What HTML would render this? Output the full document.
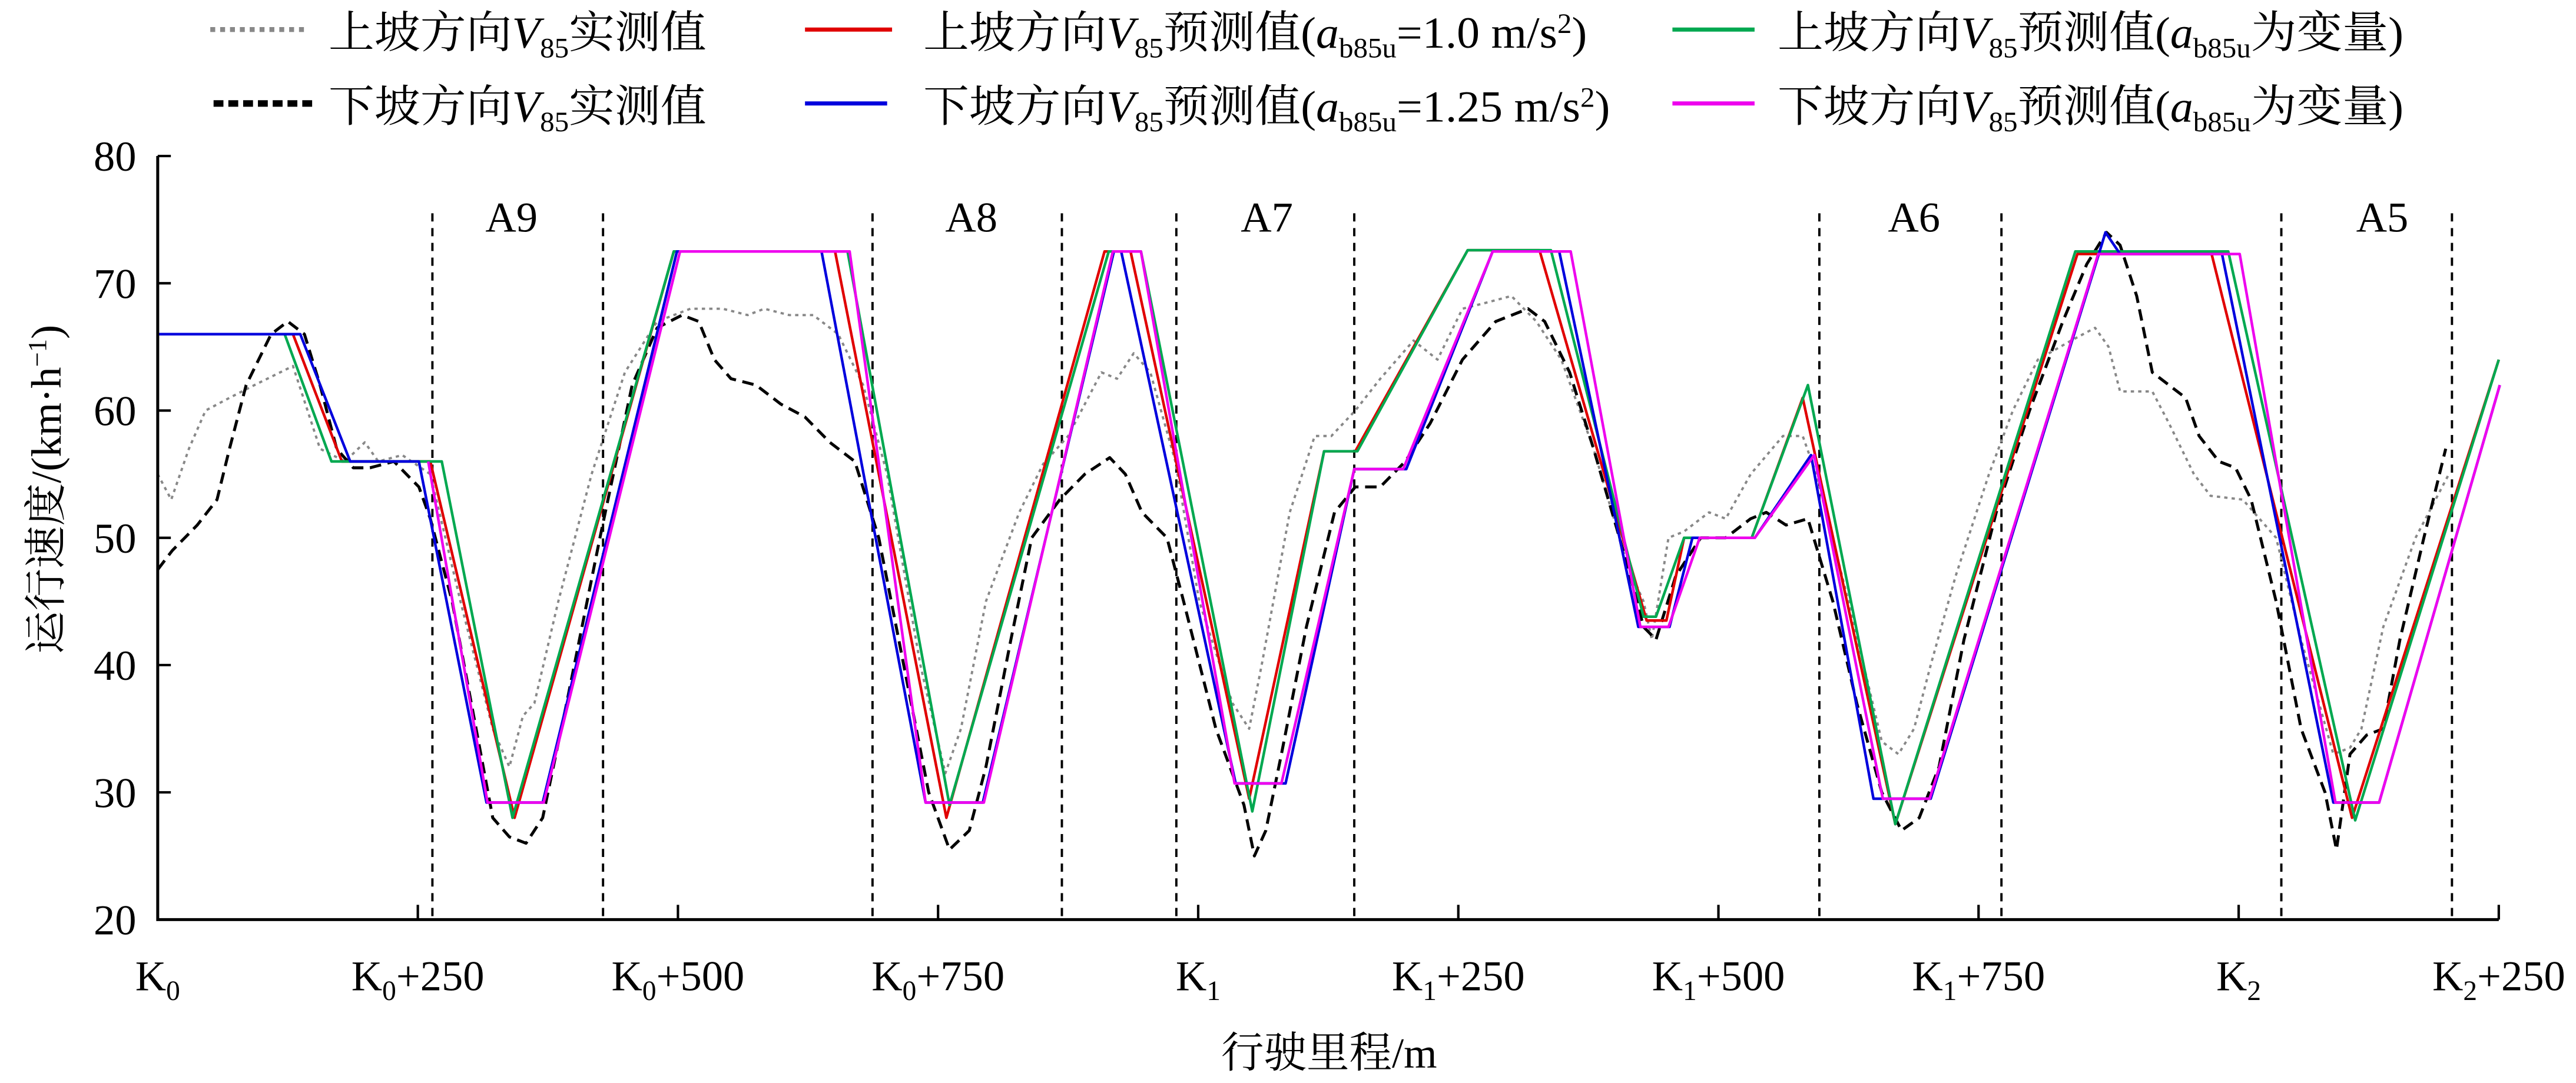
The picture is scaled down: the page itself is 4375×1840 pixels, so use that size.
<!DOCTYPE html>
<html><head><meta charset="utf-8">
<style>
html,body{margin:0;padding:0;background:#fff;}
svg{display:block;}
text{font-family:"Liberation Serif","Noto Serif CJK SC","Noto Sans CJK SC",serif;fill:#000;}
</style></head>
<body>
<svg id="chart" width="4375" height="1840" viewBox="0 0 1568 659.5" preserveAspectRatio="none" xmlns="http://www.w3.org/2000/svg">
<g id="legend">
  <g>
    <line x1="128" y1="18" x2="188" y2="18" stroke="#888" stroke-width="3" stroke-dasharray="3,3"/>
    <text x="200" y="29" font-size="27" textLength="230" lengthAdjust="spacingAndGlyphs">上坡方向<tspan font-style="italic">V</tspan><tspan font-size="17" dy="6">85</tspan><tspan dy="-6">实测值</tspan></text>
  </g>
  <g>
    <line x1="130" y1="63" x2="190" y2="63" stroke="#000" stroke-width="4" stroke-dasharray="6,3"/>
    <text x="200" y="74" font-size="27" textLength="230" lengthAdjust="spacingAndGlyphs">下坡方向<tspan font-style="italic">V</tspan><tspan font-size="17" dy="6">85</tspan><tspan dy="-6">实测值</tspan></text>
  </g>
  <g>
    <line x1="490" y1="18" x2="543" y2="18" stroke="#e00000" stroke-width="2.5"/>
    <text x="562" y="29" font-size="27" textLength="404" lengthAdjust="spacingAndGlyphs">上坡方向<tspan font-style="italic">V</tspan><tspan font-size="17" dy="6">85</tspan><tspan dy="-6">预测值(</tspan><tspan font-style="italic">a</tspan><tspan font-size="17" dy="6">b85u</tspan><tspan dy="-6">=1.0 m/s</tspan><tspan font-size="17" dy="-9">2</tspan><tspan dy="9">)</tspan></text>
  </g>
  <g>
    <line x1="490" y1="63" x2="540" y2="63" stroke="#0000dd" stroke-width="2.5"/>
    <text x="562" y="74" font-size="27" textLength="418" lengthAdjust="spacingAndGlyphs">下坡方向<tspan font-style="italic">V</tspan><tspan font-size="17" dy="6">85</tspan><tspan dy="-6">预测值(</tspan><tspan font-style="italic">a</tspan><tspan font-size="17" dy="6">b85u</tspan><tspan dy="-6">=1.25 m/s</tspan><tspan font-size="17" dy="-9">2</tspan><tspan dy="9">)</tspan></text>
  </g>
  <g>
    <line x1="1018" y1="18" x2="1068" y2="18" stroke="#00a850" stroke-width="2.5"/>
    <text x="1082" y="29" font-size="27" textLength="381" lengthAdjust="spacingAndGlyphs">上坡方向<tspan font-style="italic">V</tspan><tspan font-size="17" dy="6">85</tspan><tspan dy="-6">预测值(</tspan><tspan font-style="italic">a</tspan><tspan font-size="17" dy="6">b85u</tspan><tspan dy="-6">为变量)</tspan></text>
  </g>
  <g>
    <line x1="1018" y1="63" x2="1068" y2="63" stroke="#ee00ee" stroke-width="2.5"/>
    <text x="1082" y="74" font-size="27" textLength="381" lengthAdjust="spacingAndGlyphs">下坡方向<tspan font-style="italic">V</tspan><tspan font-size="17" dy="6">85</tspan><tspan dy="-6">预测值(</tspan><tspan font-style="italic">a</tspan><tspan font-size="17" dy="6">b85u</tspan><tspan dy="-6">为变量)</tspan></text>
  </g>
</g>
<g id="plot"></g>
<text transform="translate(37,298) rotate(-90)" text-anchor="middle" font-size="26">运行速度/(km·h<tspan font-size="16" dy="-9">−1</tspan><tspan dy="9">)</tspan></text>
<text x="809" y="650" text-anchor="middle" font-size="26">行驶里程/m</text>
</svg>
<script>
// ---- data ----
const yTicks = [20, 30, 40, 50, 60, 70, 80];
const xTickValues = [0, 250, 500, 750, 1000, 1250, 1500, 1750, 2000, 2250];
const xTickBase = ['0', '0', '0', '0', '1', '1', '1', '1', '2', '2'];
const xTickSuffix = ['', '+250', '+500', '+750', '', '+250', '+500', '+750', '', '+250'];
const sectionBounds = [264, 428, 687, 869, 979, 1150, 1597, 1772, 2041, 2205];
const sectionNames = ['A9', 'A8', 'A7', 'A6', 'A5'];
const sectionLabelPos = [340, 782, 1066, 1688, 2138];

const upMeasuredX = [0,13,30,46,69,93,130,156,180,199,212,235,262,291,322,338,351,362,385,417,449,480,512,543,567,583,607,630,654,678,701,733,757,772,796,828,851,875,907,922,938,954,978,1001,1033,1049,1061,1088,1112,1128,1151,1175,1207,1230,1254,1278,1301,1325,1349,1380,1412,1428,1436,1452,1467,1491,1507,1531,1562,1581,1594,1625,1657,1673,1688,1704,1728,1760,1783,1807,1839,1862,1875,1886,1902,1917,1933,1957,1973,2004,2036,2060,2091,2107,2118,2139,2170,2202];
const upMeasuredY = [55,53,57,60,61,62,63.5,57,56,57.5,56,56.5,55,45,35,32,36,37,45,55,63,67,68,68,67.5,68,67.5,67.5,66,62,55,40,31.5,35,45,52,55.8,58,63,62.5,64.5,63,56,45,37,35,40,52,58,58,60,62.5,65.5,64,68,68.5,69,67,64,57,48,45,42,50,50.5,52,51.5,55,58,58,55,45,34,33,35,40,47,55,60,64,65.5,66.5,65,61.5,61.5,61.5,59,55,53.3,53,50,42,33,33.5,35,43,50,55];

const downMeasuredX = [0,14,38,57,69,85,109,125,141,156,172,188,204,227,251,262,283,306,322,338,354,370,393,425,456,480,504,520,535,551,575,599,622,646,670,693,717,741,761,780,796,820,840,867,891,915,930,946,970,986,1017,1044,1054,1065,1080,1104,1131,1151,1175,1199,1223,1254,1286,1317,1333,1357,1380,1412,1428,1440,1459,1483,1507,1531,1546,1565,1586,1610,1633,1657,1676,1693,1712,1736,1767,1799,1831,1854,1873,1886,1902,1917,1933,1949,1962,1981,1997,2012,2036,2060,2083,2094,2107,2123,2139,2155,2178,2199];
const downMeasuredY = [47.5,49,51,53,57,62,66,67,66,62,57,55.5,55.5,56,54,51.5,45,35,28,26.5,26,28,37,50,62,66.5,67.5,67,64,62.5,62,60.5,59.5,57.5,56,50,40,30,25.5,27,32,42,50,53,55,56.3,55,52,50,45,35,29,25,27,33,43,52,54,54,56,59,64,67,68,67,63,57,48,43,42,47,50,50,51.5,52,51,51.5,45,37,30,27,28,32,42,52,60,67,71.5,74,73,69,63,62,61,58,56,55.5,53,45,35,30,25.5,33,34.5,35,42,50,57];

const redX = [0,130,177,262,343,496,651,758,910,935,1049,1121,1151,1259,1328,1431,1450,1467,1532,1581,1670,1845,1974,2109,2250];
const redY = [66,66,56,56,28,72.5,72.5,28,72.5,72.5,29.5,56.8,56.8,72.6,72.6,43.5,43.5,50,50,61,27.5,72.3,72.3,28,64];

const blueX = [0,137,185,251,316,370,499,638,738,793,919,926,1036,1084,1150,1200,1283,1347,1423,1453,1475,1535,1589,1649,1704,1872,1886,1984,2091,2135,2251];
const blueY = [66,66,56,56,29.2,29.2,72.5,72.5,29.2,29.2,72.5,72.5,30.7,30.7,55.4,55.4,72.5,72.5,43,43,50,50,56.5,29.5,29.5,74,72.3,72.3,29.2,29.2,62];

const greenX = [0,122,167,273,341,496,663,761,914,945,1052,1121,1153,1259,1339,1428,1440,1467,1532,1586,1670,1843,1990,2112,2250];
const greenY = [66,66,56,56,28,72.5,72.5,29,72.5,72.5,28.5,56.8,56.8,72.6,72.6,43.8,43.8,50,50,62,27.5,72.5,72.5,27.8,64];

const magentaX = [260,317,371,502,665,738,794,918,945,1035,1080,1150,1197,1283,1358,1425,1452,1482,1535,1592,1658,1703,1865,2001,2093,2135,2251];
const magentaY = [56,29.2,29.2,72.5,72.5,29.2,29.2,72.5,72.5,30.7,30.7,55.4,55.4,72.5,72.5,43,43,50,50,56.5,29.5,29.5,72.3,72.3,29.2,29.2,62];

// ---- layout ----
const X0 = 96, X1 = 1521, Y0 = 560, Y1 = 95;
const xMin = 0, xMax = 2250, yMin = 20, yMax = 80;
function sx(v){ return X0 + (v - xMin) / (xMax - xMin) * (X1 - X0); }
function sy(v){ return Y0 - (v - yMin) / (yMax - yMin) * (Y0 - Y1); }

const NS = 'http://www.w3.org/2000/svg';
const plot = document.getElementById('plot');
function mk(tag, attrs, parent){
  const e = document.createElementNS(NS, tag);
  for (const k in attrs) e.setAttribute(k, attrs[k]);
  (parent || plot).appendChild(e);
  return e;
}

// section boundary lines
sectionBounds.forEach(function(b){
  const l = mk('line', {x1: sx(b), x2: sx(b), y1: sy(75.5), y2: Y0, stroke: '#000', 'stroke-width': 1.4, 'stroke-dasharray': '5,4'});
  
  
});
sectionNames.forEach(function(n, i){
  const t = mk('text', {x: sx(sectionLabelPos[i]), y: 141, 'text-anchor': 'middle', 'font-size': 26});
  t.textContent = n;
  
  
});

function series(xs, ys, color, width, dash, name){
  let d = '';
  for (let i = 0; i < xs.length; i++) d += (i ? 'L' : 'M') + sx(xs[i]).toFixed(2) + ',' + sy(ys[i]).toFixed(2);
  const p = mk('path', {d: d, fill: 'none', stroke: color, 'stroke-width': width, 'stroke-linejoin': 'round'});
  if (dash) p.setAttribute('stroke-dasharray', dash);
  
  
}
series(upMeasuredX, upMeasuredY, '#888', 1.4, '2,2.5', 'series-up-measured');
series(downMeasuredX, downMeasuredY, '#000', 1.8, '7,4', 'series-down-measured');
series(redX, redY, '#e00000', 1.6, null, 'series-up-predicted-fixed');
series(greenX, greenY, '#00a850', 1.6, null, 'series-up-predicted-variable');
series(blueX, blueY, '#0000dd', 1.6, null, 'series-down-predicted-fixed');
series(magentaX, magentaY, '#ee00ee', 1.6, null, 'series-down-predicted-variable');

// axes
const ax = mk('path', {d: 'M' + X0 + ',' + sy(80) + 'L' + X0 + ',' + Y0 + 'L' + X1 + ',' + Y0, fill: 'none', stroke: '#000', 'stroke-width': 1.8});



yTicks.forEach(function(v){
  const tk = mk('line', {x1: X0, x2: X0 + 8, y1: sy(v), y2: sy(v), stroke: '#000', 'stroke-width': 1.5});
  
  
  const t = mk('text', {x: 83, y: sy(v) + 9, 'text-anchor': 'end', 'font-size': 26});
  t.textContent = v;
  
  
});

xTickValues.forEach(function(v, i){
  const tk = mk('line', {x1: sx(v), x2: sx(v), y1: Y0, y2: Y0 - 9, stroke: '#000', 'stroke-width': 1.5});
  
  
  const t = mk('text', {x: sx(v), y: 603, 'text-anchor': 'middle', 'font-size': 26});
  
  
  const a = document.createElementNS(NS, 'tspan'); a.textContent = 'K'; t.appendChild(a);
  const b = document.createElementNS(NS, 'tspan'); b.setAttribute('font-size', '17'); b.setAttribute('dy', '6'); b.textContent = xTickBase[i]; t.appendChild(b);
  if (xTickSuffix[i]) { const c = document.createElementNS(NS, 'tspan'); c.setAttribute('dy', '-6'); c.textContent = xTickSuffix[i]; t.appendChild(c); }
});
</script>
</body></html>
